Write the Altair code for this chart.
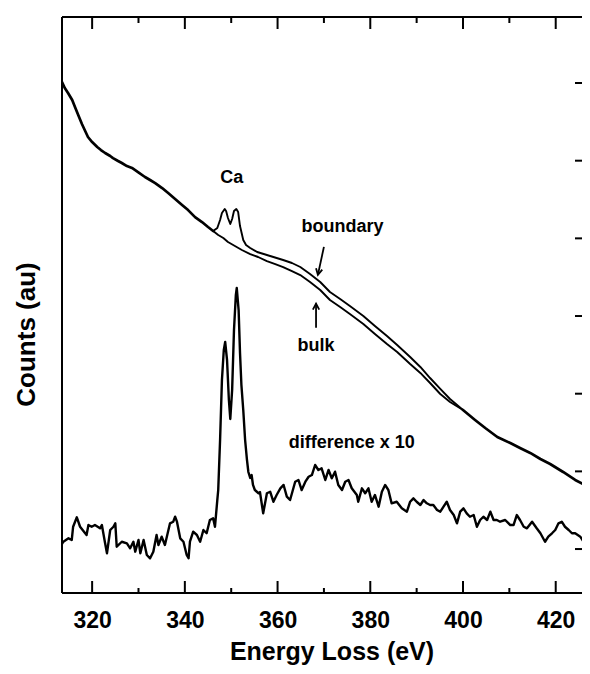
import altair as alt
import pandas as pd

# ---- data (x: energy loss in eV, y: counts in arbitrary units; right-hand ticks at 10..70)
shared_E = [313.5, 314.1, 314.8, 315.7, 316.3, 317.0, 317.8, 318.5, 319.1, 320.0, 321.1, 321.9,
            322.8, 323.9, 324.5, 325.6, 326.4, 327.5, 328.6, 329.9, 331.4, 332.5, 333.6, 335.1,
            336.4, 337.9, 339.4, 340.7, 342.2, 343.7, 345.0, 346.1]
shared_v = [70.13, 69.36, 68.72, 67.81, 66.91, 65.88, 64.72, 63.82, 63.05, 62.40, 61.76, 61.37,
            60.99, 60.60, 60.34, 59.96, 59.70, 59.31, 59.06, 58.54, 57.90, 57.51, 57.12, 56.48,
            55.83, 55.06, 54.29, 53.64, 52.74, 52.10, 51.46, 50.95]

boundary_E = [346.1, 347.0, 347.6, 348.0, 348.6, 348.9, 349.3, 349.8, 350.2, 350.6, 351.1, 351.5,
              351.9, 352.6, 353.2, 354.1, 355.6, 357.7, 361.2, 363.1, 364.9, 367.0, 369.2, 371.3,
              373.5, 375.6, 378.5, 381.0, 383.6, 385.8, 388.6, 390.8, 392.9, 395.1, 397.2, 400.0]
boundary_v = [50.95, 51.34, 52.37, 53.27, 53.78, 53.52, 52.62, 51.85, 52.49, 53.52, 53.78, 53.39,
              51.59, 49.79, 49.15, 48.76, 48.24, 47.86, 47.21, 46.83, 46.31, 45.41, 44.38, 43.09,
              42.19, 41.29, 40.01, 38.72, 37.43, 36.27, 34.73, 33.44, 32.02, 30.61, 29.32, 27.90]

bulk_E = [346.1, 347.2, 348.3, 349.3, 350.8, 352.3, 354.1, 355.8, 357.7, 359.5, 361.2, 363.1,
          364.9, 367.0, 369.2, 371.3, 373.5, 375.6, 378.5, 381.0, 383.6, 385.8, 388.6, 390.8,
          392.9, 395.1, 397.2, 400.0]
bulk_v = [50.95, 50.43, 50.04, 49.53, 49.01, 48.50, 47.98, 47.60, 47.08, 46.69, 46.31, 45.79,
          45.28, 44.38, 43.35, 42.06, 41.16, 40.26, 38.97, 37.69, 36.40, 35.37, 33.82, 32.67,
          31.38, 29.96, 28.93, 27.90]

merged_E = [400.0, 402.6, 404.8, 407.4, 410.2, 412.3, 414.5, 416.7, 418.8, 421.6, 424.2, 425.9, 427.4]
merged_v = [27.90, 26.62, 25.58, 24.42, 23.65, 23.01, 22.37, 21.59, 20.95, 19.92, 18.89, 18.38, 17.99]

diff_E = [313.5, 313.8, 314.9, 315.6, 315.9, 316.7, 317.4, 318.5, 318.8, 319.2, 319.9, 320.6,
          321.7, 322.1, 322.8, 323.2, 323.9, 324.6, 325.0, 325.3, 326.4, 327.5, 328.2, 328.9,
          329.3, 330.0, 330.4, 331.1, 331.8, 332.5, 333.2, 333.9, 334.3, 335.0, 335.7, 336.8,
          337.5, 337.9, 338.3, 339.0, 339.7, 340.4, 340.8, 341.1, 341.8, 342.6, 343.3, 344.0,
          344.7, 345.4, 346.1, 346.5, 347.0, 347.2, 347.6, 348.0, 348.4, 348.7, 349.1, 349.5,
          349.8, 350.2, 350.6, 351.0, 351.2, 351.6, 351.9, 352.2, 352.6, 353.0, 353.4, 353.7,
          354.1, 354.4, 354.7, 355.1, 355.9, 356.2, 356.9, 357.7, 358.4, 359.1, 359.8, 360.6,
          361.3, 362.0, 362.7, 363.8, 364.5, 365.2, 366.0, 366.7, 367.4, 368.1, 368.8, 369.5,
          370.3, 371.0, 371.7, 372.4, 373.1, 373.9, 374.6, 375.3, 376.0, 377.1, 377.4, 378.2,
          378.9, 379.6, 380.3, 381.0, 381.8, 382.5, 383.2, 383.9, 384.6, 385.7, 386.8, 387.9,
          388.6, 389.3, 390.0, 390.8, 391.5, 392.2, 392.9, 393.6, 394.4, 395.1, 395.8, 396.5,
          397.2, 398.0, 398.7, 399.4, 400.1, 400.8, 401.5, 402.3, 403.0, 403.7, 404.4, 405.2,
          405.9, 406.6, 407.3, 408.0, 409.1, 410.2, 410.9, 411.6, 412.3, 413.1, 413.8, 414.9,
          415.9, 416.7, 417.7, 418.4, 419.2, 419.9, 420.6, 421.3, 422.0, 422.8, 423.5, 424.2,
          425.3, 426.0, 426.7, 427.4]
diff_v = [10.65, 10.94, 11.38, 11.16, 12.87, 14.09, 12.87, 12.03, 11.81, 13.09, 12.87, 13.09,
          12.67, 13.09, 10.74, 9.45, 12.45, 12.87, 13.31, 10.30, 10.94, 10.74, 10.09, 10.94,
          9.66, 11.16, 9.45, 11.16, 9.23, 8.81, 9.66, 11.81, 10.52, 11.59, 10.52, 13.31,
          13.52, 14.16, 13.52, 11.38, 10.94, 9.23, 8.81, 10.94, 12.23, 11.81, 10.94, 12.45,
          12.03, 13.74, 13.96, 12.87, 16.31, 17.60, 24.04, 31.76, 35.63, 36.66, 34.34, 29.19,
          26.74, 30.48, 38.20, 42.70, 43.61, 40.77, 35.24, 31.12, 27.90, 24.04, 21.47, 19.92,
          19.15, 19.53, 18.25, 17.60, 17.18, 17.34, 14.60, 17.18, 17.38, 16.09, 16.96, 17.82,
          18.25, 16.74, 16.31, 18.67, 18.89, 17.60, 18.67, 19.31, 19.53, 20.82, 20.18, 20.39,
          18.89, 20.18, 19.11, 19.96, 18.25, 17.60, 18.67, 18.89, 17.82, 16.96, 16.09, 17.82,
          17.18, 17.82, 16.09, 16.96, 15.45, 17.38, 18.25, 17.60, 15.89, 16.09, 15.24, 14.81,
          16.09, 16.53, 16.09, 15.67, 16.31, 15.89, 15.67, 15.67, 15.03, 14.81, 15.45, 16.09,
          15.03, 14.38, 13.31, 14.81, 15.24, 14.60, 14.16, 14.38, 12.87, 13.74, 14.16, 13.74,
          14.81, 13.74, 13.74, 13.52, 13.74, 13.09, 13.09, 14.38, 13.74, 12.87, 12.67, 13.52,
          12.67, 12.03, 10.94, 11.59, 12.03, 12.45, 13.31, 13.52, 12.87, 12.45, 12.03, 12.03,
          11.59, 10.94, 11.38, 11.59]

label_text = ["Ca", "boundary", "bulk", "difference x 10"]
label_E = [350.1, 374.0, 368.3, 376.0]
label_v = [57.1, 50.8, 35.5, 23.0]

arrow_tail_E = [370.0, 368.3]
arrow_tail_v = [48.9, 38.5]
arrow_tip_E = [368.7, 368.3]
arrow_tip_v = [45.3, 41.6]
arrow_angle = [12, 180]

x_major_ticks = [320, 340, 360, 380, 400, 420]
x_minor_ticks = [330, 350, 370, 390, 410]
y_ticks = [10, 20, 30, 40, 50, 60, 70]

# ---- chart
W, H = 520, 576
FONT = "Liberation Sans"
xs = alt.Scale(domain=[313.5, 425.67], nice=False, zero=False)
ys = alt.Scale(domain=[4.34, 78.5], nice=False, zero=False)
xax = alt.Axis(values=x_major_ticks, title="Energy Loss (eV)", domain=False, ticks=False,
               tickSize=0, grid=False, labelFont=FONT, labelFontSize=23,
               labelFontWeight="bold", labelColor="black", labelPadding=16,
               titleFont=FONT, titleFontSize=25, titleFontWeight="bold",
               titleColor="black", titleX=269.5, titleY=66, titleBaseline="alphabetic")
yax = alt.Axis(title="Counts (au)", domain=False, ticks=False, tickSize=0, labels=False,
               grid=False, titleFont=FONT, titleFontSize=26, titleFontWeight="bold",
               titleColor="black", titleX=-28, titleY=317, titleBaseline="alphabetic",
               titleAngle=270)


def X(f):
    return alt.X(f, type="quantitative", scale=xs, axis=xax)


def Y(f):
    return alt.Y(f, type="quantitative", scale=ys, axis=yax)


def curve(E, V, sw):
    df = pd.DataFrame({"E": E, "v": V, "i": list(range(len(E)))})
    return alt.Chart(df).mark_line(color="black", strokeWidth=sw, clip=True,
                                   strokeJoin="round", strokeCap="round").encode(
        x=X("E"), y=Y("v"), order=alt.Order("i:Q"))


one = pd.DataFrame({"k": [0]})
spines = [
    alt.Chart(one).mark_rule(color="black", strokeWidth=2).encode(
        x=alt.value(0), y=alt.value(0), y2=alt.value(H)),
    alt.Chart(one).mark_rule(color="black", strokeWidth=2).encode(
        x=alt.value(0), x2=alt.value(W), y=alt.value(0)),
    alt.Chart(one).mark_rule(color="black", strokeWidth=2).encode(
        x=alt.value(0), x2=alt.value(W), y=alt.value(H)),
]

maj = pd.DataFrame({"t": x_major_ticks})
mnr = pd.DataFrame({"t": x_minor_ticks})
yt = pd.DataFrame({"t": y_ticks})
ticks = [
    alt.Chart(maj).mark_rule(color="black", strokeWidth=2).encode(x=X("t"), y=alt.value(0), y2=alt.value(12)),
    alt.Chart(mnr).mark_rule(color="black", strokeWidth=2).encode(x=X("t"), y=alt.value(0), y2=alt.value(6)),
    alt.Chart(maj).mark_rule(color="black", strokeWidth=2).encode(x=X("t"), y=alt.value(H), y2=alt.value(H - 12)),
    alt.Chart(mnr).mark_rule(color="black", strokeWidth=2).encode(x=X("t"), y=alt.value(H), y2=alt.value(H - 5)),
    alt.Chart(yt).mark_rule(color="black", strokeWidth=2).encode(
        y=Y("t"), x=alt.value(W - 7), x2=alt.value(W)),
]

lines = [
    curve(diff_E, diff_v, 2.4),
    curve(shared_E, shared_v, 2.7),
    curve(boundary_E, boundary_v, 1.9),
    curve(bulk_E, bulk_v, 1.9),
    curve(merged_E, merged_v, 2.7),
]

lab = pd.DataFrame({"E": label_E, "v": label_v, "t": label_text})
labels = alt.Chart(lab).mark_text(font=FONT, fontSize=18, fontWeight="bold", color="black",
                                  align="center", baseline="alphabetic").encode(
    x=X("E"), y=Y("v"), text="t:N")

arr = pd.DataFrame({"E": arrow_tail_E, "v": arrow_tail_v, "E2": arrow_tip_E, "v2": arrow_tip_v,
                    "a": arrow_angle})
shafts = alt.Chart(arr).mark_rule(color="black", strokeWidth=1.8).encode(
    x=X("E"), y=Y("v"), x2="E2:Q", y2="v2:Q")
heads = alt.Chart(arr).mark_point(shape="M-0.8,-1.5L0,0L0.8,-1.5", size=64, filled=False,
                                  color="black", strokeWidth=1.8, opacity=1).encode(
    x=X("E2"), y=Y("v2"), angle=alt.Angle("a:Q", scale=None))

chart = alt.layer(*spines, *ticks, *lines, labels, shafts, heads).properties(
    width=W, height=H,
    autosize=alt.AutoSizeParams(type="none"),
    padding={"left": 54, "top": 9, "right": 0, "bottom": 72},
    background="white",
).configure_view(stroke=None)

chart.save("out.html", embed_options={"renderer": "svg", "actions": False})
